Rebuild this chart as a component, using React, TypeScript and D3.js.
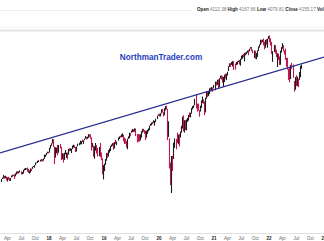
import React from "react";
import * as d3 from "d3";

// Weekly S&P 500 bars: [high, low, close], week starting Mon Feb 6 2017
const wk2017 = [
  [2319, 2288, 2316], [2352, 2316, 2351], [2368, 2352, 2367], [2401, 2358, 2383], [2387, 2354, 2372],
  [2390, 2360, 2378], [2379, 2336, 2344], [2370, 2322, 2363], [2378, 2344, 2355], [2366, 2328, 2329],
  [2362, 2329, 2349], [2392, 2369, 2384], [2400, 2379, 2399], [2404, 2386, 2390], [2406, 2353, 2382],
  [2418, 2382, 2416], [2440, 2405, 2439], [2446, 2415, 2432], [2441, 2419, 2433], [2454, 2430, 2438],
  [2443, 2405, 2423], [2434, 2407, 2425], [2463, 2416, 2459], [2477, 2453, 2472], [2484, 2459, 2472],
  [2480, 2467, 2476], [2491, 2437, 2441], [2474, 2424, 2426], [2454, 2417, 2443], [2480, 2428, 2477],
  [2475, 2447, 2461], [2500, 2474, 2500], [2509, 2496, 2502], [2520, 2488, 2519], [2552, 2520, 2549],
  [2555, 2544, 2553], [2576, 2547, 2575], [2582, 2560, 2581], [2589, 2566, 2588], [2598, 2566, 2582],
  [2597, 2566, 2579], [2605, 2576, 2602], [2657, 2601, 2642], [2656, 2625, 2652], [2679, 2649, 2675],
  [2695, 2674, 2683], [2692, 2673, 2674],
];
const wk2018 = [
  [2748, 2683, 2743], [2787, 2737, 2786], [2811, 2777, 2810], [2873, 2808, 2873], [2870, 2759, 2762],
  [2763, 2533, 2620], [2755, 2616, 2732], [2750, 2675, 2747], [2789, 2647, 2691], [2787, 2681, 2786],
  [2802, 2741, 2752], [2762, 2585, 2588], [2674, 2594, 2641], [2672, 2553, 2604], [2680, 2586, 2656],
  [2718, 2661, 2670], [2683, 2612, 2670], [2682, 2594, 2663], [2733, 2655, 2728], [2743, 2701, 2713],
  [2739, 2707, 2721], [2736, 2676, 2735], [2779, 2731, 2779], [2791, 2752, 2780], [2782, 2745, 2755],
  [2760, 2691, 2718], [2763, 2698, 2760], [2805, 2768, 2801], [2816, 2784, 2802], [2848, 2796, 2819],
  [2841, 2795, 2840], [2863, 2829, 2833], [2852, 2802, 2850], [2877, 2854, 2875], [2916, 2877, 2902],
  [2901, 2864, 2872], [2906, 2874, 2905], [2941, 2887, 2930], [2940, 2903, 2914], [2939, 2874, 2886],
  [2894, 2710, 2767], [2816, 2755, 2768], [2778, 2628, 2659], [2767, 2603, 2723], [2815, 2709, 2781],
  [2786, 2671, 2736], [2746, 2631, 2633], [2760, 2636, 2760], [2815, 2621, 2633], [2685, 2583, 2600],
  [2607, 2409, 2417], [2520, 2347, 2486],
];
const wk2019 = [
  [2539, 2444, 2532], [2597, 2524, 2596], [2675, 2577, 2671], [2681, 2612, 2665], [2716, 2631, 2707],
  [2738, 2682, 2708], [2776, 2704, 2776], [2794, 2764, 2793], [2813, 2775, 2804], [2817, 2722, 2743],
  [2830, 2739, 2822], [2861, 2800, 2801], [2836, 2785, 2834], [2893, 2848, 2893], [2910, 2872, 2907],
  [2918, 2891, 2905], [2940, 2898, 2940], [2954, 2901, 2946], [2932, 2836, 2881], [2892, 2801, 2860],
  [2876, 2805, 2826], [2841, 2750, 2752], [2876, 2728, 2873], [2910, 2874, 2887], [2964, 2885, 2950],
  [2959, 2912, 2942], [2996, 2964, 2990], [3018, 2970, 3014], [3017, 2975, 2977], [3028, 2978, 3026],
  [3027, 2914, 2932], [2945, 2822, 2919], [2943, 2834, 2889], [2939, 2834, 2847], [2940, 2852, 2926],
  [2985, 2891, 2979], [3021, 2964, 3007], [3022, 2978, 2992], [3002, 2946, 2962], [2993, 2856, 2952],
  [2993, 2892, 2970], [3008, 2946, 2986], [3027, 2985, 3023], [3067, 3004, 3067], [3097, 3066, 3093],
  [3120, 3075, 3120], [3127, 3091, 3110], [3154, 3113, 3141], [3144, 3070, 3146], [3176, 3124, 3169],
  [3226, 3172, 3221], [3248, 3223, 3240],
];
const wk2020 = [
  [3259, 3213, 3235], [3267, 3214, 3265], [3330, 3263, 3330], [3338, 3280, 3295], [3285, 3214, 3226],
  [3348, 3234, 3328], [3385, 3315, 3380], [3393, 3328, 3338], [3337, 2855, 2954], [3137, 2901, 2972],
  [2882, 2478, 2711], [2553, 2281, 2305], [2637, 2192, 2541], [2641, 2448, 2489], [2819, 2599, 2790],
  [2880, 2749, 2875], [2873, 2727, 2837], [2965, 2815, 2831], [2934, 2798, 2930], [2945, 2767, 2864],
  [2980, 2893, 2955], [3068, 2963, 3044], [3211, 3026, 3194], [3233, 2984, 3041], [3155, 2966, 3098],
  [3155, 3004, 3009], [3165, 2999, 3130], [3190, 3128, 3185], [3238, 3149, 3225], [3280, 3200, 3216],
  [3272, 3200, 3271], [3352, 3260, 3351], [3387, 3329, 3373], [3399, 3354, 3397], [3509, 3399, 3508],
  [3588, 3349, 3427], [3425, 3293, 3341], [3429, 3313, 3319], [3320, 3209, 3298], [3393, 3294, 3348],
  [3482, 3354, 3477], [3550, 3440, 3484], [3502, 3424, 3465], [3465, 3234, 3270], [3529, 3279, 3510],
  [3646, 3511, 3585], [3628, 3543, 3558], [3645, 3558, 3638], [3700, 3594, 3699], [3712, 3644, 3663],
  [3726, 3648, 3709], [3712, 3636, 3703], [3760, 3699, 3756],
];
const wk2021 = [
  [3827, 3663, 3825], [3823, 3750, 3768], [3861, 3764, 3841], [3870, 3694, 3714], [3889, 3725, 3887],
  [3937, 3883, 3935], [3950, 3865, 3907], [3929, 3805, 3811], [3915, 3723, 3842], [3960, 3818, 3943],
  [3983, 3886, 3913], [3979, 3853, 3975], [4020, 3944, 4020], [4130, 4034, 4129], [4191, 4118, 4185],
  [4195, 4118, 4180], [4219, 4160, 4181], [4238, 4128, 4233], [4237, 4056, 4174], [4186, 4061, 4156],
  [4220, 4155, 4204], [4234, 4168, 4230], [4249, 4217, 4247], [4262, 4165, 4167], [4287, 4144, 4281],
  [4356, 4271, 4352], [4372, 4289, 4370], [4394, 4322, 4327], [4415, 4233, 4412], [4430, 4360, 4395],
  [4440, 4385, 4437], [4469, 4422, 4468], [4480, 4367, 4442], [4510, 4448, 4509], [4545, 4510, 4535],
  [4549, 4456, 4459], [4487, 4411, 4433], [4466, 4306, 4455], [4466, 4289, 4357], [4412, 4278, 4391],
  [4475, 4329, 4471], [4559, 4461, 4545], [4608, 4537, 4605], [4718, 4595, 4698], [4714, 4630, 4683],
  [4718, 4662, 4698], [4743, 4585, 4595], [4672, 4495, 4538], [4713, 4532, 4712], [4732, 4600, 4620],
  [4740, 4531, 4726], [4808, 4733, 4766],
];
const wk2022 = [
  [4818, 4662, 4677], [4749, 4582, 4663], [4665, 4396, 4398], [4453, 4223, 4432], [4596, 4435, 4501],
  [4590, 4401, 4419], [4490, 4327, 4349], [4406, 4115, 4385], [4402, 4262, 4329], [4340, 4158, 4204],
  [4465, 4162, 4463], [4546, 4424, 4543], [4637, 4509, 4546], [4593, 4450, 4488], [4471, 4381, 4392],
  [4513, 4267, 4272], [4308, 4124, 4132], [4308, 4062, 4123], [4081, 3859, 4024], [4090, 3811, 3901],
  [4158, 3876, 4158], [4204, 4074, 4109], [4168, 3900, 3901], [3838, 3637, 3675], [3913, 3673, 3912],
  [3950, 3739, 3825], [3918, 3742, 3899], [3880, 3722, 3863], [4013, 3860, 3962], [4140, 3911, 4130],
  [4168, 4080, 4155],
];
const firstWeek = "2017-02-06";
const prevClose = 2297;

// Trend line (two anchor points)
const trendDates = ["2017-02-10", "2023-01-01"];
const trendValues = [2678, 4326];

// Header quote
const quoteLabels = ["Open", "High", "Low", "Close", "Vol"];
const quoteValues = ["4112.38", "4167.66", "4079.81", "4155.17", "1.82B"];

const watermark = "NorthmanTrader.com";
const monthNames = ["Jan", "Feb", "Mar", "Apr", "May", "Jun", "Jul", "Aug", "Sep", "Oct", "Nov", "Dec"];

const W = 324;
const H = 241;

export default function App() {
  const weeks = [...wk2017, ...wk2018, ...wk2019, ...wk2020, ...wk2021, ...wk2022];
  const start = new Date(firstWeek + "T00:00:00");
  const bars = weeks.map((w, i) => ({
    date: d3.timeDay.offset(start, i * 7),
    high: w[0],
    low: w[1],
    close: w[2],
    prev: i === 0 ? prevClose : weeks[i - 1][2],
  }));

  const x = d3
    .scaleTime()
    .domain([new Date("2018-01-01T00:00:00"), new Date("2023-01-01T00:00:00")])
    .range([49, 324]);
  const y = d3.scaleLog().domain([1804, 4927]).range([232, 31]);

  const ticks = d3.timeMonth
    .every(3)!
    .range(new Date("2017-02-01T00:00:00"), new Date("2023-02-01T00:00:00"));

  const trend = d3
    .line<[Date, number]>()
    .x((d) => x(d[0]))
    .y((d) => y(d[1]))(trendDates.map((d, i) => [new Date(d + "T00:00:00"), trendValues[i]]));

  const font = "'Liberation Sans', Arial, sans-serif";

  return (
    <div style={{ position: "fixed", left: 0, top: 0 }}>
      <svg width={W} height={H} style={{ display: "block", background: "#fff" }}>
        <defs>
          <clipPath id="plot">
            <rect x={0} y={32} width={W} height={200} />
          </clipPath>
        </defs>
        {/* header */}
        <line x1={0} x2={192} y1={10.5} y2={10.5} stroke="#ececec" strokeWidth={1} />
        <line x1={0} x2={W} y1={27.5} y2={27.5} stroke="#f2f2f2" strokeWidth={1} />
        <line x1={0} x2={W} y1={30.5} y2={30.5} stroke="#e2e2e2" strokeWidth={2} />
        <text x={197} y={11} fontFamily={font} fontSize={4.6}>
          {quoteLabels.map((l, i) => (
            <React.Fragment key={l}>
              <tspan fontWeight="bold" fill="#222">{(i ? " " : "") + l}</tspan>
              <tspan fill="#777">{" " + quoteValues[i]}</tspan>
            </React.Fragment>
          ))}
        </text>

        {/* watermark */}
        <text
          x={161}
          y={60}
          textAnchor="middle"
          fontFamily={font}
          fontWeight="bold"
          fontSize={8.2}
          fill="#1f3cc2"
        >
          {watermark}
        </text>

        <g clipPath="url(#plot)">
          {bars.map((b, i) => {
            const cx = Math.round(x(b.date)) + 0.5;
            return (
              <line
                key={i}
                x1={cx}
                x2={cx}
                y1={y(b.high)}
                y2={y(b.low)}
                stroke={b.close < b.prev ? "#c0184f" : "#1c1c1c"}
                strokeWidth={1.1}
              />
            );
          })}
          <path d={trend ?? ""} fill="none" stroke="#2b2e8e" strokeWidth={1.2} />
        </g>

        {/* x axis */}
        <line x1={0} x2={W} y1={233.5} y2={233.5} stroke="#e0e0e0" strokeWidth={1} />
        {ticks.map((t, i) => {
          const isYear = t.getMonth() === 0;
          return (
            <text
              key={i}
              x={x(t)}
              y={239.5}
              textAnchor="middle"
              fontFamily={font}
              fontSize={4.5}
              fontWeight={isYear ? "bold" : "normal"}
              fill={isYear ? "#222" : "#666"}
            >
              {isYear ? d3.timeFormat("%y")(t) : monthNames[t.getMonth()]}
            </text>
          );
        })}
      </svg>
    </div>
  );
}
